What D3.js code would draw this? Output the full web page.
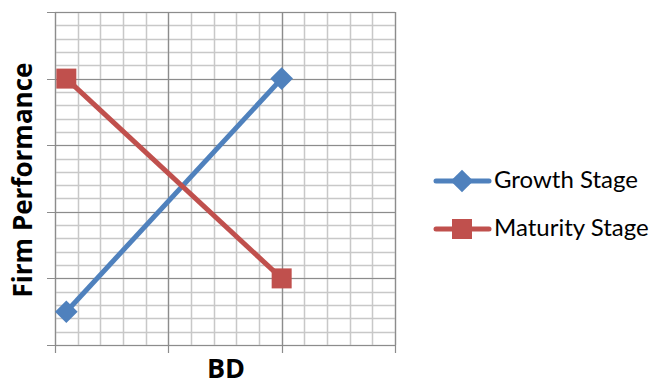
<!DOCTYPE html>
<html><head><meta charset="utf-8">
<script src="https://cdn.jsdelivr.net/npm/d3@7"></script>
<style>body{margin:0;background:#fff}svg{display:block}</style>
</head><body><svg id="c" width="654" height="387"></svg>
<script>
const xValues = [0.1, 2];
const growth = [0.5, 4];
const maturity = [4, 1];
const seriesNames = ["Growth Stage", "Maturity Stage"];
const colors = ["#4F81BD", "#C0504D"];

const svg = d3.select("#c");
const L = 55, R = 395, T = 12, B = 345;
const x = d3.scaleLinear().domain([0, 3]).range([L, R]);
const y = d3.scaleLinear().domain([0, 5]).range([B, T]);
const g = svg.append("g");
// minor grid
const minorX = d3.range(0, 3.001, 0.2), minorY = d3.range(0, 5.001, 0.2);
g.selectAll(".mx").data(minorX).enter().append("line")
  .attr("x1", d => Math.round(x(d)) + 0.5).attr("x2", d => Math.round(x(d)) + 0.5)
  .attr("y1", T).attr("y2", B).attr("stroke", "#c8c8c8").attr("stroke-width", 1.5);
g.selectAll(".my").data(minorY).enter().append("line")
  .attr("y1", d => Math.round(y(d)) + 0.5).attr("y2", d => Math.round(y(d)) + 0.5)
  .attr("x1", L).attr("x2", R).attr("stroke", "#c8c8c8").attr("stroke-width", 1.5);
// major grid
g.selectAll(".Mx").data(d3.range(0, 4)).enter().append("line")
  .attr("x1", d => Math.round(x(d)) + 0.5).attr("x2", d => Math.round(x(d)) + 0.5)
  .attr("y1", T).attr("y2", B + 8).attr("stroke", "#8c8c8c").attr("stroke-width", 1.2);
g.selectAll(".My").data(d3.range(0, 6)).enter().append("line")
  .attr("y1", d => Math.round(y(d)) + 0.5).attr("y2", d => Math.round(y(d)) + 0.5)
  .attr("x1", L - 8).attr("x2", R).attr("stroke", "#8c8c8c").attr("stroke-width", 1.2);

const line = d3.line().x(d => x(d[0])).y(d => y(d[1]));
const data = [growth, maturity].map(s => xValues.map((xv, i) => [xv, s[i]]));
data.forEach((pts, k) => {
  svg.append("path").attr("d", line(pts)).attr("fill", "none")
    .attr("stroke", colors[k]).attr("stroke-width", 5);
});
function marker(sel, k, cx, cy) {
  if (k === 0) {
    sel.append("rect").attr("x", -8).attr("y", -8).attr("width", 16).attr("height", 16)
      .attr("transform", `translate(${cx},${cy}) rotate(45)`).attr("fill", colors[0]);
  } else {
    sel.append("rect").attr("x", cx - 10).attr("y", cy - 10).attr("width", 20).attr("height", 20)
      .attr("fill", colors[1]);
  }
}
data.forEach((pts, k) => pts.forEach(p => marker(svg, k, x(p[0]), y(p[1]))));

// legend
const ly = [181, 229];
seriesNames.forEach((n, k) => {
  svg.append("line").attr("x1", 436).attr("x2", 489).attr("y1", ly[k]).attr("y2", ly[k])
    .attr("stroke", colors[k]).attr("stroke-width", 5).attr("stroke-linecap", "round");
  marker(svg, k, 462, ly[k]);
  svg.append("text").attr("x", 494).attr("y", ly[k] + 7).text(n)
    .attr("font-family", "Lato, 'Open Sans', sans-serif").attr("font-size", 24).attr("fill", "#000");
});
svg.append("text").text("BD").attr("x", 226).attr("y", 378).attr("text-anchor", "middle")
  .attr("font-family", "'Open Sans', sans-serif").attr("font-weight", "bold").attr("font-size", 27);
svg.append("text").text("Firm Performance").attr("transform", "translate(32,180) rotate(-90)")
  .attr("text-anchor", "middle").attr("font-family", "'Open Sans', sans-serif")
  .attr("font-weight", "bold").attr("font-size", 26);
</script></body></html>
